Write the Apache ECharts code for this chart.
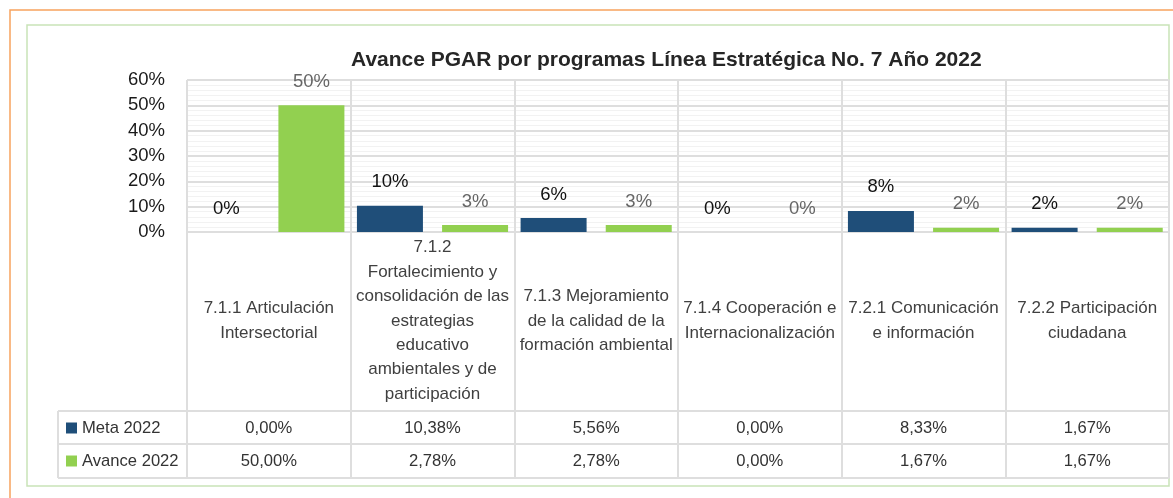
<!DOCTYPE html>
<html>
<head>
<meta charset="utf-8">
<script src="https://cdn.jsdelivr.net/npm/echarts@6/dist/echarts.min.js"></script>
<style>
  html, body { margin: 0; padding: 0; background: #fff; }
  #main { width: 1173px; height: 498px; }
</style>
</head>
<body>
<div id="main"></div>
<script>
// categorías (programas) con los saltos de línea del original
const categorias = [
    '7.1.1 Articulación\nIntersectorial',
    '7.1.2\nFortalecimiento y\nconsolidación de las\nestrategias\neducativo\nambientales y de\nparticipación',
    '7.1.3 Mejoramiento\nde la calidad de la\nformación ambiental',
    '7.1.4 Cooperación e\nInternacionalización',
    '7.2.1 Comunicación\ne información',
    '7.2.2 Participación\nciudadana'
];
const nombresSeries = ['Meta 2022', 'Avance 2022'];
const meta2022 = [0, 0.1038, 0.0556, 0, 0.0833, 0.0167];
const avance2022 = [0.5, 0.0278, 0.0278, 0, 0.0167, 0.0167];

const FUENTE = "'Liberation Sans', Arial, sans-serif";
const GRIS = '#dedede';

// 0.1038 -> "10,38%"
function pct2(v) {
    return (v * 100).toFixed(2).replace('.', ',') + '%';
}
// 0.1038 -> "10%"
function pct0(v) {
    return Math.round(v * 100) + '%';
}

let myChart = echarts.init(document.getElementById('main'));

// ejes de la tabla de datos bajo el gráfico
function filaTabla(valores, offset) {
    return {
        type: 'category',
        gridIndex: 0,
        position: 'bottom',
        offset: offset,
        data: valores.map(pct2),
        axisLine: { show: false },
        axisTick: { show: false },
        splitLine: { show: false },
        axisLabel: {
            interval: 0,
            margin: 0,
            verticalAlign: 'middle',
            fontSize: 16.6,
            color: '#333',
            fontFamily: FUENTE
        }
    };
}

let option = {
    animation: false,
    title: {
        text: 'Avance PGAR por programas Línea Estratégica No. 7 Año 2022',
        left: 351,
        top: 50,
        padding: 0,
        textStyle: {
            fontSize: 21,
            fontWeight: 'bold',
            color: '#262626',
            fontFamily: FUENTE
        }
    },
    legend: {
        data: nombresSeries,
        orient: 'vertical',
        left: 66,
        top: 418,
        padding: 0,
        icon: 'rect',
        itemWidth: 11,
        itemHeight: 11,
        itemGap: 13,
        textStyle: {
            fontSize: 16.6,
            lineHeight: 20,
            color: '#333',
            fontFamily: FUENTE
        }
    },
    grid: {
        left: 187,
        right: 4,
        top: 80,
        bottom: 266,
        containLabel: false
    },
    xAxis: [
        {
            type: 'category',
            data: categorias,
            axisLine: { show: true, lineStyle: { color: GRIS, width: 2 } },
            axisTick: { show: true, length: 246, lineStyle: { color: GRIS, width: 2 } },
            splitLine: { show: true, interval: 0, lineStyle: { color: GRIS, width: 2 } },
            axisLabel: {
                interval: 0,
                margin: 89,
                verticalAlign: 'middle',
                lineHeight: 24.4,
                fontSize: 17,
                color: '#404040',
                fontFamily: FUENTE
            }
        },
        filaTabla(meta2022, 196),
        filaTabla(avance2022, 229)
    ],
    yAxis: {
        type: 'value',
        min: 0,
        max: 0.6,
        interval: 0.1,
        axisLine: { show: false },
        axisTick: { show: false },
        axisLabel: {
            formatter: pct0,
            margin: 22,
            fontSize: 18.5,
            color: '#1a1a1a',
            fontFamily: FUENTE
        },
        splitLine: { show: true, lineStyle: { color: GRIS, width: 2 } },
        minorTick: { show: false, splitNumber: 5 },
        minorSplitLine: { show: true, lineStyle: { color: '#f2f2f2', width: 1 } }
    },
    series: [
        {
            name: nombresSeries[0],
            type: 'bar',
            data: meta2022,
            barWidth: 66,
            barGap: '29%',
            itemStyle: { color: '#1F4E79' },
            label: {
                show: true,
                position: 'top',
                distance: 14,
                formatter: (p) => pct0(p.value),
                fontSize: 18.5,
                color: '#111',
                fontFamily: FUENTE
            }
        },
        {
            name: nombresSeries[1],
            type: 'bar',
            data: avance2022,
            barWidth: 66,
            itemStyle: { color: '#92D050' },
            label: {
                show: true,
                position: 'top',
                distance: 14,
                formatter: (p) => pct0(p.value),
                fontSize: 18.5,
                color: '#666',
                fontFamily: FUENTE
            }
        }
    ],
    graphic: [
        // marco naranja exterior
        { type: 'rect', z: -1, shape: { x: 10, y: 10, width: 1200, height: 600 }, style: { fill: null, stroke: '#F7A25E', lineWidth: 1.5 } },
        // marco verde del gráfico
        { type: 'rect', z: -1, shape: { x: 27, y: 25, width: 1142, height: 461 }, style: { fill: null, stroke: '#C9E3B8', lineWidth: 1.5 } },
        // líneas de la tabla
        { type: 'line', shape: { x1: 58, y1: 411, x2: 1169, y2: 411 }, style: { stroke: GRIS, lineWidth: 2 } },
        { type: 'line', shape: { x1: 58, y1: 444, x2: 1169, y2: 444 }, style: { stroke: GRIS, lineWidth: 2 } },
        { type: 'line', shape: { x1: 58, y1: 478, x2: 1169, y2: 478 }, style: { stroke: GRIS, lineWidth: 2 } },
        { type: 'line', shape: { x1: 58, y1: 411, x2: 58, y2: 478 }, style: { stroke: GRIS, lineWidth: 2 } }
    ]
};

myChart.setOption(option);
</script>
</body>
</html>
